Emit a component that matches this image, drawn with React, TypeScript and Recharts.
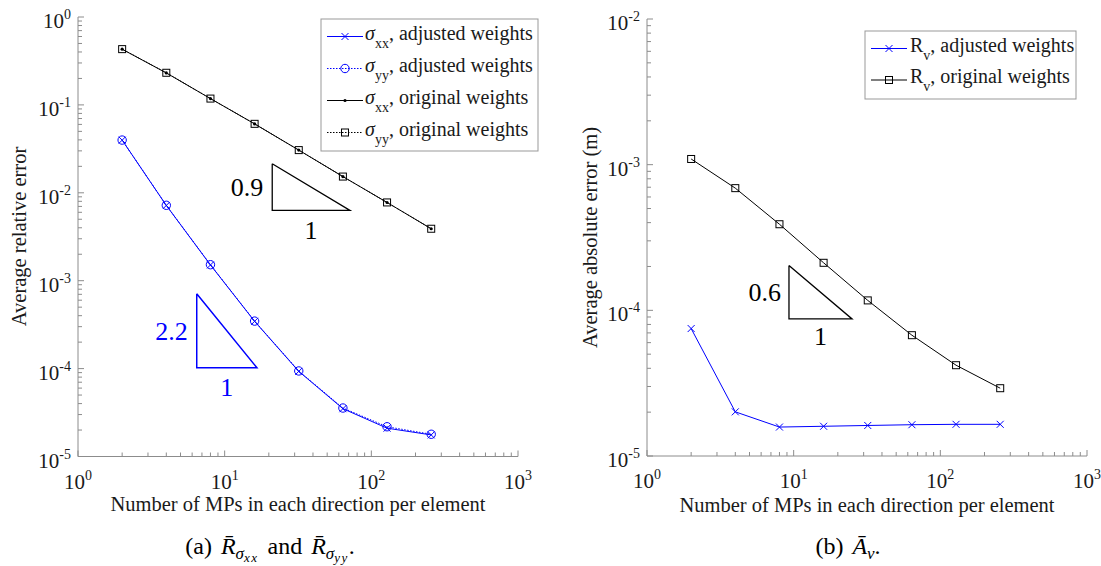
import { Line, LineChart, ReferenceDot, XAxis, YAxis } from "recharts";

const FONT = '"Liberation Serif", "Times New Roman", serif';
const AXIS = "#8c8c8c";
const TEXT = "#1a1a1a";
const BLUE = "#0000ff";

// x values: number of material points per direction
const mpCounts = [2, 4, 8, 16, 32, 64, 128, 256];

// (a) average relative stress error
const sxxAdjusted = [0.0397, 0.00718, 0.00151, 3.45e-4, 9.3e-5, 3.5e-5, 2.1e-5, 1.76e-5];
const syyAdjusted = [0.0398, 0.00721, 0.00152, 3.47e-4, 9.4e-5, 3.56e-5, 2.18e-5, 1.79e-5];
const sxxOriginal = [0.43, 0.231, 0.118, 0.0608, 0.0306, 0.0153, 0.00776, 0.0039];
const syyOriginal = [0.431, 0.232, 0.118, 0.0609, 0.0306, 0.0153, 0.00777, 0.0039];

// (b) average absolute velocity error
const rvAdjusted = [7.5e-5, 2.01e-5, 1.58e-5, 1.6e-5, 1.62e-5, 1.64e-5, 1.65e-5, 1.65e-5];
const rvOriginal = [1.094e-3, 6.9e-4, 3.9e-4, 2.12e-4, 1.17e-4, 6.75e-5, 4.2e-5, 2.92e-5];

// slope triangles (closed paths, data coordinates)
const triBlackX = [21.1, 21.1, 71.5, 21.1];
const triBlackY = [0.0214, 0.0063, 0.0063, 0.0214];
const triBlueX = [6.45, 6.45, 16.6, 6.45];
const triBlueY = [7.1e-4, 1.02e-4, 1.02e-4, 7.1e-4];
const triRightX = [9.29, 9.29, 25, 9.29];
const triRightY = [2.03e-4, 8.73e-5, 8.73e-5, 2.03e-4];

// axis ticks
const xDecades = [1, 10, 100, 1000];
const leftYDecades = [1e-5, 1e-4, 1e-3, 1e-2, 1e-1, 1];
const rightYDecades = [1e-5, 1e-4, 1e-3, 1e-2];
const minorSteps = [2, 3, 4, 5, 6, 7, 8, 9];

const withMinor = (decades: number[]) =>
    decades.flatMap((d, i) => (i < decades.length - 1 ? [d, ...minorSteps.map((k) => k * d)] : [d]));

const toPoints = (xs: number[], ys: number[]) => xs.map((x, i) => ({ x, y: ys[i] }));

const isDecade = (v: number) => Math.abs(Math.log10(v) - Math.round(Math.log10(v))) < 1e-6;

const XTick = (props: any) => {
    const { x, y, payload } = props;
    const v = payload.value;
    const major = isDecade(v);
    return (
        <g>
            <line x1={x} x2={x} y1={y} y2={y - (major ? 6 : 4)} stroke={AXIS} />
            {major && (
                <text x={x} y={y + 32} textAnchor="middle" fontSize={21} fill={TEXT} fontFamily={FONT}>
                    10
                    <tspan dy={-9} fontSize={14}>
                        {Math.round(Math.log10(v))}
                    </tspan>
                </text>
            )}
        </g>
    );
};

const YTick = (props: any) => {
    const { x, y, payload } = props;
    const v = payload.value;
    const major = isDecade(v);
    return (
        <g>
            <line x1={x} x2={x + (major ? 6 : 4)} y1={y} y2={y} stroke={AXIS} />
            {major && (
                <text x={x - 7} y={y + 11} textAnchor="end" fontSize={21} fill={TEXT} fontFamily={FONT}>
                    10
                    <tspan dy={-9} fontSize={14}>
                        {Math.round(Math.log10(v))}
                    </tspan>
                </text>
            )}
        </g>
    );
};

// markers
const crossDot = (size: number) => (p: any) => (
    <path
        key={`x-${p.index}`}
        d={`M${p.cx - size},${p.cy - size}L${p.cx + size},${p.cy + size}M${p.cx - size},${p.cy + size}L${p.cx + size},${p.cy - size}`}
        stroke={BLUE}
        strokeWidth={1}
        fill="none"
    />
);
const circleDot = (p: any) => (
    <circle key={`o-${p.index}`} cx={p.cx} cy={p.cy} r={4.2} stroke={BLUE} strokeWidth={1} fill="none" />
);
const pointDot = (p: any) => <circle key={`p-${p.index}`} cx={p.cx} cy={p.cy} r={1.6} fill="#000" />;
const squareDot = (p: any) => (
    <rect key={`s-${p.index}`} x={p.cx - 3.5} y={p.cy - 3.5} width={7} height={7} stroke="#000" strokeWidth={1} fill="none" />
);

const sigma = (sub: string) => (
    <>
        <tspan fontStyle="italic">σ</tspan>
        <tspan fontSize={14} dy={8}>
            {sub}
        </tspan>
    </>
);

const LegendRow = ({ y, x1, x2, color, dash, marker, children, textX }: any) => (
    <g>
        <line x1={x1} x2={x2} y1={y} y2={y} stroke={color} strokeDasharray={dash} />
        {marker}
        <text x={textX} y={y + 3} fontSize={20} fill={TEXT} fontFamily={FONT}>
            {children}
        </text>
    </g>
);

const LeftLegend = () => {
    const rows = [36.5, 68.5, 100.5, 132.5];
    const mx = 345;
    return (
        <g>
            <rect x={321} y={19} width={217} height={132} fill="#fff" stroke="#999" />
            <LegendRow y={rows[0]} x1={327} x2={363} color={BLUE} textX={365} marker={crossDot(3.5)({ cx: mx, cy: rows[0], index: "l" })}>
                {sigma("xx")}
                <tspan dy={-8}>, adjusted weights</tspan>
            </LegendRow>
            <LegendRow y={rows[1]} x1={327} x2={363} color={BLUE} dash="1.5 1.5" textX={365} marker={circleDot({ cx: mx, cy: rows[1], index: "l" })}>
                {sigma("yy")}
                <tspan dy={-8}>, adjusted weights</tspan>
            </LegendRow>
            <LegendRow y={rows[2]} x1={327} x2={363} color="#000" textX={365} marker={pointDot({ cx: mx, cy: rows[2], index: "l" })}>
                {sigma("xx")}
                <tspan dy={-8}>, original weights</tspan>
            </LegendRow>
            <LegendRow y={rows[3]} x1={327} x2={363} color="#000" dash="1.5 1.5" textX={365} marker={squareDot({ cx: mx, cy: rows[3], index: "l" })}>
                {sigma("yy")}
                <tspan dy={-8}>, original weights</tspan>
            </LegendRow>
        </g>
    );
};

const RightLegend = () => {
    const rows = [48.5, 80];
    const mx = 329;
    return (
        <g>
            <rect x={305} y={31} width={211} height={68} fill="#fff" stroke="#999" />
            <LegendRow y={rows[0]} x1={311} x2={347} color={BLUE} textX={350} marker={crossDot(3.5)({ cx: mx, cy: rows[0], index: "l" })}>
                R<tspan fontSize={14} dy={8}>v</tspan>
                <tspan dy={-8}>, adjusted weights</tspan>
            </LegendRow>
            <LegendRow y={rows[1]} x1={311} x2={347} color="#000" textX={350} marker={squareDot({ cx: mx, cy: rows[1], index: "l" })}>
                R<tspan fontSize={14} dy={8}>v</tspan>
                <tspan dy={-8}>, original weights</tspan>
            </LegendRow>
        </g>
    );
};

const slopeLabels = (xs: number[], ys: number[], rise: string, color: string, riseOffset: number, runOffset: number) => {
    const labelStyle = { fontSize: 26, fill: color, fontFamily: FONT };
    return [
        <ReferenceDot
            key="rise"
            x={xs[0]}
            y={Math.sqrt(ys[0] * ys[1])}
            r={0}
            fill="none"
            stroke="none"
            label={{ value: rise, position: "left", offset: riseOffset, ...labelStyle }}
        />,
        <ReferenceDot
            key="run"
            x={Math.sqrt(xs[1] * xs[2])}
            y={ys[1]}
            r={0}
            fill="none"
            stroke="none"
            label={{ value: "1", position: "bottom", offset: runOffset, ...labelStyle }}
        />,
    ];
};

const xAxisProps = {
    type: "number" as const,
    dataKey: "x",
    scale: "log" as const,
    domain: [1, 1000],
    ticks: withMinor(xDecades),
    interval: 0,
    tick: (p: any) => <XTick {...p} />,
    tickLine: false,
    tickSize: 0,
    tickMargin: 0,
    axisLine: { stroke: AXIS },
    height: 60,
    allowDataOverflow: true,
};

const yAxisProps = {
    type: "number" as const,
    scale: "log" as const,
    interval: 0,
    tick: (p: any) => <YTick {...p} />,
    tickLine: false,
    tickSize: 0,
    tickMargin: 0,
    axisLine: { stroke: AXIS },
    allowDataOverflow: true,
};

const xTitle = "Number of MPs in each direction per element";

export default function App() {
    return (
        <div style={{ position: "absolute", left: 0, top: 0, width: 1101, height: 566, background: "#fff", fontFamily: FONT }}>
            <div style={{ position: "absolute", left: 0, top: 0 }}>
                <LineChart width={560} height={566} margin={{ top: 17, right: 42, left: 0, bottom: 49.5 }}>
                    <XAxis {...xAxisProps} />
                    <YAxis {...yAxisProps} dataKey="y" domain={[1e-5, 1]} ticks={withMinor(leftYDecades)} width={78} />
                    <Line data={toPoints(triBlackX, triBlackY)} dataKey="y" stroke="#000" strokeWidth={1.3} dot={false} activeDot={false} isAnimationActive={false} />
                    <Line data={toPoints(triBlueX, triBlueY)} dataKey="y" stroke={BLUE} strokeWidth={1.5} dot={false} activeDot={false} isAnimationActive={false} />
                    <Line data={toPoints(mpCounts, sxxAdjusted)} dataKey="y" stroke={BLUE} strokeWidth={1} dot={crossDot(3.5)} activeDot={false} isAnimationActive={false} />
                    <Line data={toPoints(mpCounts, syyAdjusted)} dataKey="y" stroke={BLUE} strokeWidth={1} strokeDasharray="1.5 1.5" dot={circleDot} activeDot={false} isAnimationActive={false} />
                    <Line data={toPoints(mpCounts, sxxOriginal)} dataKey="y" stroke="#000" strokeWidth={1} dot={pointDot} activeDot={false} isAnimationActive={false} />
                    <Line data={toPoints(mpCounts, syyOriginal)} dataKey="y" stroke="#000" strokeWidth={1} strokeDasharray="1.5 1.5" dot={squareDot} activeDot={false} isAnimationActive={false} />
                    {slopeLabels(triBlackX, triBlackY, "0.9", "#000", 9, 10)}
                    {slopeLabels(triBlueX, triBlueY, "2.2", BLUE, 9, 10)}
                    <LeftLegend />
                    <text x={298} y={511} textAnchor="middle" fontSize={20.5} fill={TEXT} fontFamily={FONT}>
                        {xTitle}
                    </text>
                    <text transform="translate(25.5,236.5) rotate(-90)" textAnchor="middle" fontSize={20.5} fill={TEXT} fontFamily={FONT}>
                        Average relative error
                    </text>
                    <text x={270} y={554} textAnchor="middle" fontSize={24} fill="#000" fontFamily={FONT}>
                        (a)
                        <tspan dx={9} fontStyle="italic">R̄</tspan>
                        <tspan fontSize={17} dy={5} fontStyle="italic">σ</tspan>
                        <tspan fontSize={13} dy={3} fontStyle="italic" letterSpacing={1.5}>xx</tspan>
                        <tspan dy={-8} dx={9}>and</tspan>
                        <tspan dx={9} fontStyle="italic">R̄</tspan>
                        <tspan fontSize={17} dy={5} fontStyle="italic">σ</tspan>
                        <tspan fontSize={13} dy={3} fontStyle="italic" letterSpacing={1.5}>yy</tspan>
                        <tspan dy={-8}>.</tspan>
                    </text>
                </LineChart>
            </div>
            <div style={{ position: "absolute", left: 560, top: 0 }}>
                <LineChart width={541} height={566} margin={{ top: 19, right: 14, left: 0, bottom: 50 }}>
                    <XAxis {...xAxisProps} />
                    <YAxis {...yAxisProps} dataKey="y" domain={[1e-5, 1e-2]} ticks={withMinor(rightYDecades)} width={87} />
                    <Line data={toPoints(triRightX, triRightY)} dataKey="y" stroke="#000" strokeWidth={1.3} dot={false} activeDot={false} isAnimationActive={false} />
                    <Line data={toPoints(mpCounts, rvAdjusted)} dataKey="y" stroke={BLUE} strokeWidth={1} dot={crossDot(3.5)} activeDot={false} isAnimationActive={false} />
                    <Line data={toPoints(mpCounts, rvOriginal)} dataKey="y" stroke="#000" strokeWidth={1} dot={squareDot} activeDot={false} isAnimationActive={false} />
                    {slopeLabels(triRightX, triRightY, "0.6", "#000", 8, 8)}
                    <RightLegend />
                    <text x={307} y={512} textAnchor="middle" fontSize={20.5} fill={TEXT} fontFamily={FONT}>
                        {xTitle}
                    </text>
                    <text transform="translate(37,237.5) rotate(-90)" textAnchor="middle" fontSize={20.5} fill={TEXT} fontFamily={FONT}>
                        Average absolute error (m)
                    </text>
                    <text x={288} y={554} textAnchor="middle" fontSize={24} fill="#000" fontFamily={FONT}>
                        (b)
                        <tspan dx={9} fontStyle="italic">Ā</tspan>
                        <tspan fontSize={17} dy={5} fontStyle="italic">v</tspan>
                        <tspan dy={-5}>.</tspan>
                    </text>
                </LineChart>
            </div>
        </div>
    );
}
